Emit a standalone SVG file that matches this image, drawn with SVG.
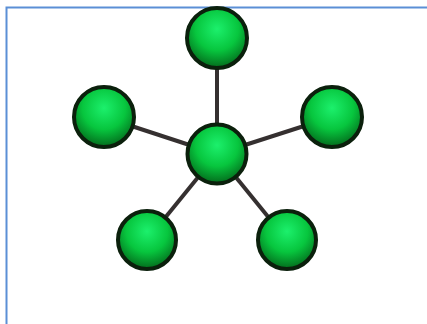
<svg xmlns="http://www.w3.org/2000/svg" width="427" height="324" viewBox="0 0 427 324">
<defs>
<radialGradient id="g" cx="0.5" cy="0.35" r="0.65">
<stop offset="0" stop-color="#1cf06c"/>
<stop offset="0.55" stop-color="#07c63e"/>
<stop offset="1" stop-color="#036b1c"/>
</radialGradient>
</defs>
<style>
.n{fill:url(#g);stroke:#0b200c;stroke-width:4}
.c{stroke:#353030;stroke-width:4;fill:none}
</style>
<rect x="0" y="0" width="427" height="324" fill="#ffffff"/>
<path d="M6.5 324 V7.5 H427" fill="none" stroke="#5b8fd6" stroke-width="2"/>
<g id="connectors">
<line class="c" x1="217" y1="154" x2="217" y2="38"/>
<line class="c" x1="217" y1="154" x2="104" y2="117"/>
<line class="c" x1="217" y1="154" x2="332" y2="117"/>
<line class="c" x1="217" y1="154" x2="147" y2="240"/>
<line class="c" x1="217" y1="154" x2="287" y2="240"/>
</g>
<g id="top"><circle class="n" cx="217" cy="38" r="30"/></g>
<g id="left"><circle class="n" cx="104" cy="117" r="30"/></g>
<g id="right"><circle class="n" cx="332" cy="117" r="30"/></g>
<g id="center"><circle class="n" cx="217" cy="154" r="29.5"/></g>
<g id="bottom-left"><circle class="n" cx="147" cy="240" r="29"/></g>
<g id="bottom-right"><circle class="n" cx="287" cy="240" r="29"/></g>
</svg>
